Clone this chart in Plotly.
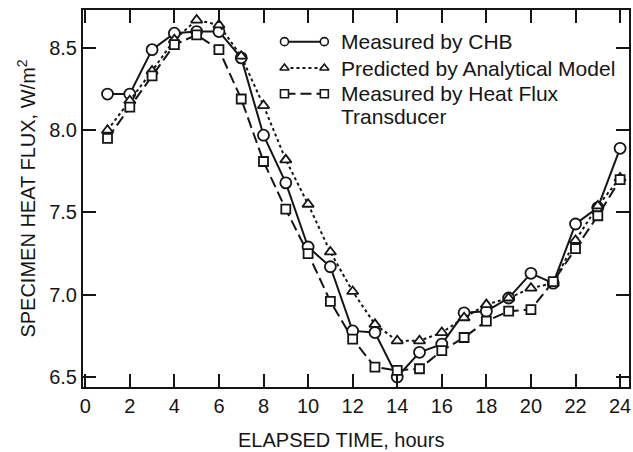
import plotly.graph_objects as go

# Hourly specimen heat flux, W/m^2
hours = list(range(1, 25))
chb = [8.22, 8.22, 8.49, 8.59, 8.60, 8.60, 8.44, 7.97, 7.68, 7.29, 7.17, 6.78,
       6.77, 6.50, 6.65, 6.70, 6.89, 6.90, 6.98, 7.13, 7.07, 7.43, 7.53, 7.89]
model = [8.00, 8.18, 8.36, 8.55, 8.67, 8.64, 8.45, 8.15, 7.82, 7.55, 7.26, 7.02,
         6.82, 6.72, 6.72, 6.77, 6.86, 6.94, 6.98, 7.04, 7.07, 7.33, 7.54, 7.71]
transducer = [7.95, 8.14, 8.33, 8.52, 8.58, 8.49, 8.19, 7.81, 7.52, 7.25, 6.96, 6.73,
              6.56, 6.54, 6.55, 6.66, 6.74, 6.84, 6.90, 6.91, 7.08, 7.28, 7.48, 7.70]

x_ticks = list(range(0, 25, 2))
y_ticks = [6.5, 7.0, 7.5, 8.0, 8.5]

series_names = ["Measured by CHB", "Predicted by Analytical Model",
                "Measured by Heat Flux<br>Transducer"]

INK = "#151515"
FONT = "Liberation Sans, Arial, Helvetica, sans-serif"

styles = [
    dict(dash="solid", symbol="circle", size=11, lsize=8),
    dict(dash="3px,3px", symbol="triangle-up", size=10, lsize=8),
    dict(dash="11px,5px", symbol="square", size=9, lsize=8),
]

fig = go.Figure()
for vals, st in zip([chb, model, transducer], styles):
    fig.add_trace(go.Scatter(
        x=hours, y=vals, mode="lines+markers",
        line=dict(color=INK, width=2, dash=st["dash"]),
        marker=dict(symbol=st["symbol"], size=st["size"], color="white",
                    line=dict(color=INK, width=1.8)),
        showlegend=False, cliponaxis=False,
    ))

# Hand-drawn key on an overlay axis in paper units (marker at both ends of each sample)
key_rows = [0.916, 0.846, 0.778]
key_x0, key_x1, key_text_x = 0.369, 0.442, 0.468
for row_y, st, name in zip(key_rows, styles, series_names):
    fig.add_trace(go.Scatter(
        x=[key_x0, key_x1], y=[row_y, row_y], mode="lines+markers",
        xaxis="x2", yaxis="y2",
        line=dict(color=INK, width=2, dash=st["dash"]),
        marker=dict(symbol=st["symbol"], size=st["lsize"], color="white",
                    line=dict(color=INK, width=1.6)),
        showlegend=False, hoverinfo="skip", cliponaxis=False,
    ))
    lines = name.split("<br>")
    for i, txt in enumerate(lines):
        fig.add_annotation(
            x=key_text_x, y=row_y - i * 0.061, xref="paper", yref="paper",
            text=txt, showarrow=False, xanchor="left", yanchor="middle",
            font=dict(family=FONT, size=21, color=INK),
        )

axis_common = dict(
    showline=True, linewidth=2, linecolor=INK, mirror="ticks",
    ticks="inside", ticklen=13, tickwidth=2, tickcolor=INK,
    showgrid=False, zeroline=False,
    tickfont=dict(family=FONT, size=20, color=INK),
)

fig.update_layout(
    width=633, height=452,
    margin=dict(l=83, r=2, t=10, b=65),
    paper_bgcolor="white", plot_bgcolor="white",
    xaxis=dict(range=[-0.1, 24.4], tickvals=x_ticks, **axis_common),
    yaxis=dict(range=[6.439, 8.731], tickvals=y_ticks, tickformat=".1f",
               title=dict(text="SPECIMEN HEAT FLUX, W/m<sup>2</sup>",
                          font=dict(family=FONT, size=20, color=INK), standoff=8),
               **axis_common),
    xaxis2=dict(overlaying="x", range=[0, 1], visible=False, fixedrange=True),
    yaxis2=dict(overlaying="y", range=[0, 1], visible=False, fixedrange=True),
    showlegend=False,
)

fig.add_annotation(
    x=(342 - 83) / 548, y=-0.14, xref="paper", yref="paper",
    text="ELAPSED TIME, hours", showarrow=False, xanchor="center", yanchor="middle",
    font=dict(family=FONT, size=20, color=INK),
)

fig.write_html("out.html")
